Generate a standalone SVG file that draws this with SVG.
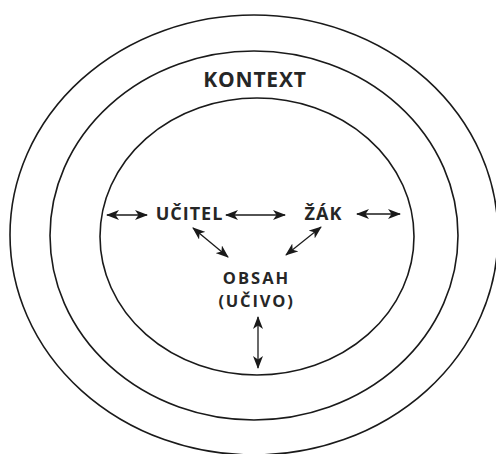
<svg xmlns="http://www.w3.org/2000/svg" width="496" height="454" viewBox="0 0 496 454">
  <style>
    .ring { fill: none; stroke: #1a1a1a; stroke-width: 1.6; }
    .lbl { font-family: "Open Sans", "Noto Sans", "Liberation Sans", sans-serif; font-weight: bold; fill: #262626; text-anchor: middle; }
    .link { stroke: #1a1a1a; stroke-width: 1.3; fill: none; marker-start: url(#head); marker-end: url(#head); }
  </style>
  <defs>
    <marker id="head" viewBox="0 0 13 10" refX="12" refY="5" markerWidth="13" markerHeight="10" markerUnits="userSpaceOnUse" orient="auto-start-reverse">
      <path d="M0,0 L13,5 L0,10 L3.5,5 Z" fill="#1a1a1a"/>
    </marker>
  </defs>
  <rect width="496" height="454" fill="#ffffff"/>

  <!-- nested rings -->
  <g id="ring-outer"><ellipse class="ring" cx="254" cy="235" rx="244" ry="220"/></g>
  <g id="ring-middle"><ellipse class="ring" cx="254" cy="235.5" rx="204" ry="184.5"/></g>
  <g id="ring-inner"><ellipse class="ring" cx="257" cy="236.5" rx="157" ry="138.5"/></g>

  <!-- labels -->
  <g id="kontext"><text class="lbl" x="255" y="87" font-size="21" letter-spacing="0.8">KONTEXT</text></g>
  <g id="ucitel"><text class="lbl" x="189.5" y="220" font-size="18" letter-spacing="1">UČITEL</text></g>
  <g id="zak"><text class="lbl" x="323.5" y="220" font-size="18" letter-spacing="1">ŽÁK</text></g>
  <g id="obsah">
    <text class="lbl" x="256.5" y="284" font-size="16.5" letter-spacing="2">OBSAH</text>
    <text class="lbl" x="256.5" y="307" font-size="16.5" letter-spacing="1.8">(UČIVO)</text>
  </g>

  <!-- connectors -->
  <g id="connectors">
    <line class="link" x1="107" y1="215" x2="147" y2="215"/>
    <line class="link" x1="226" y1="215" x2="285" y2="215"/>
    <line class="link" x1="357" y1="214" x2="400" y2="214"/>
    <line class="link" x1="193" y1="228" x2="228" y2="257"/>
    <line class="link" x1="321" y1="227" x2="286" y2="255"/>
    <line class="link" x1="258" y1="317" x2="258" y2="368"/>
  </g>
</svg>
